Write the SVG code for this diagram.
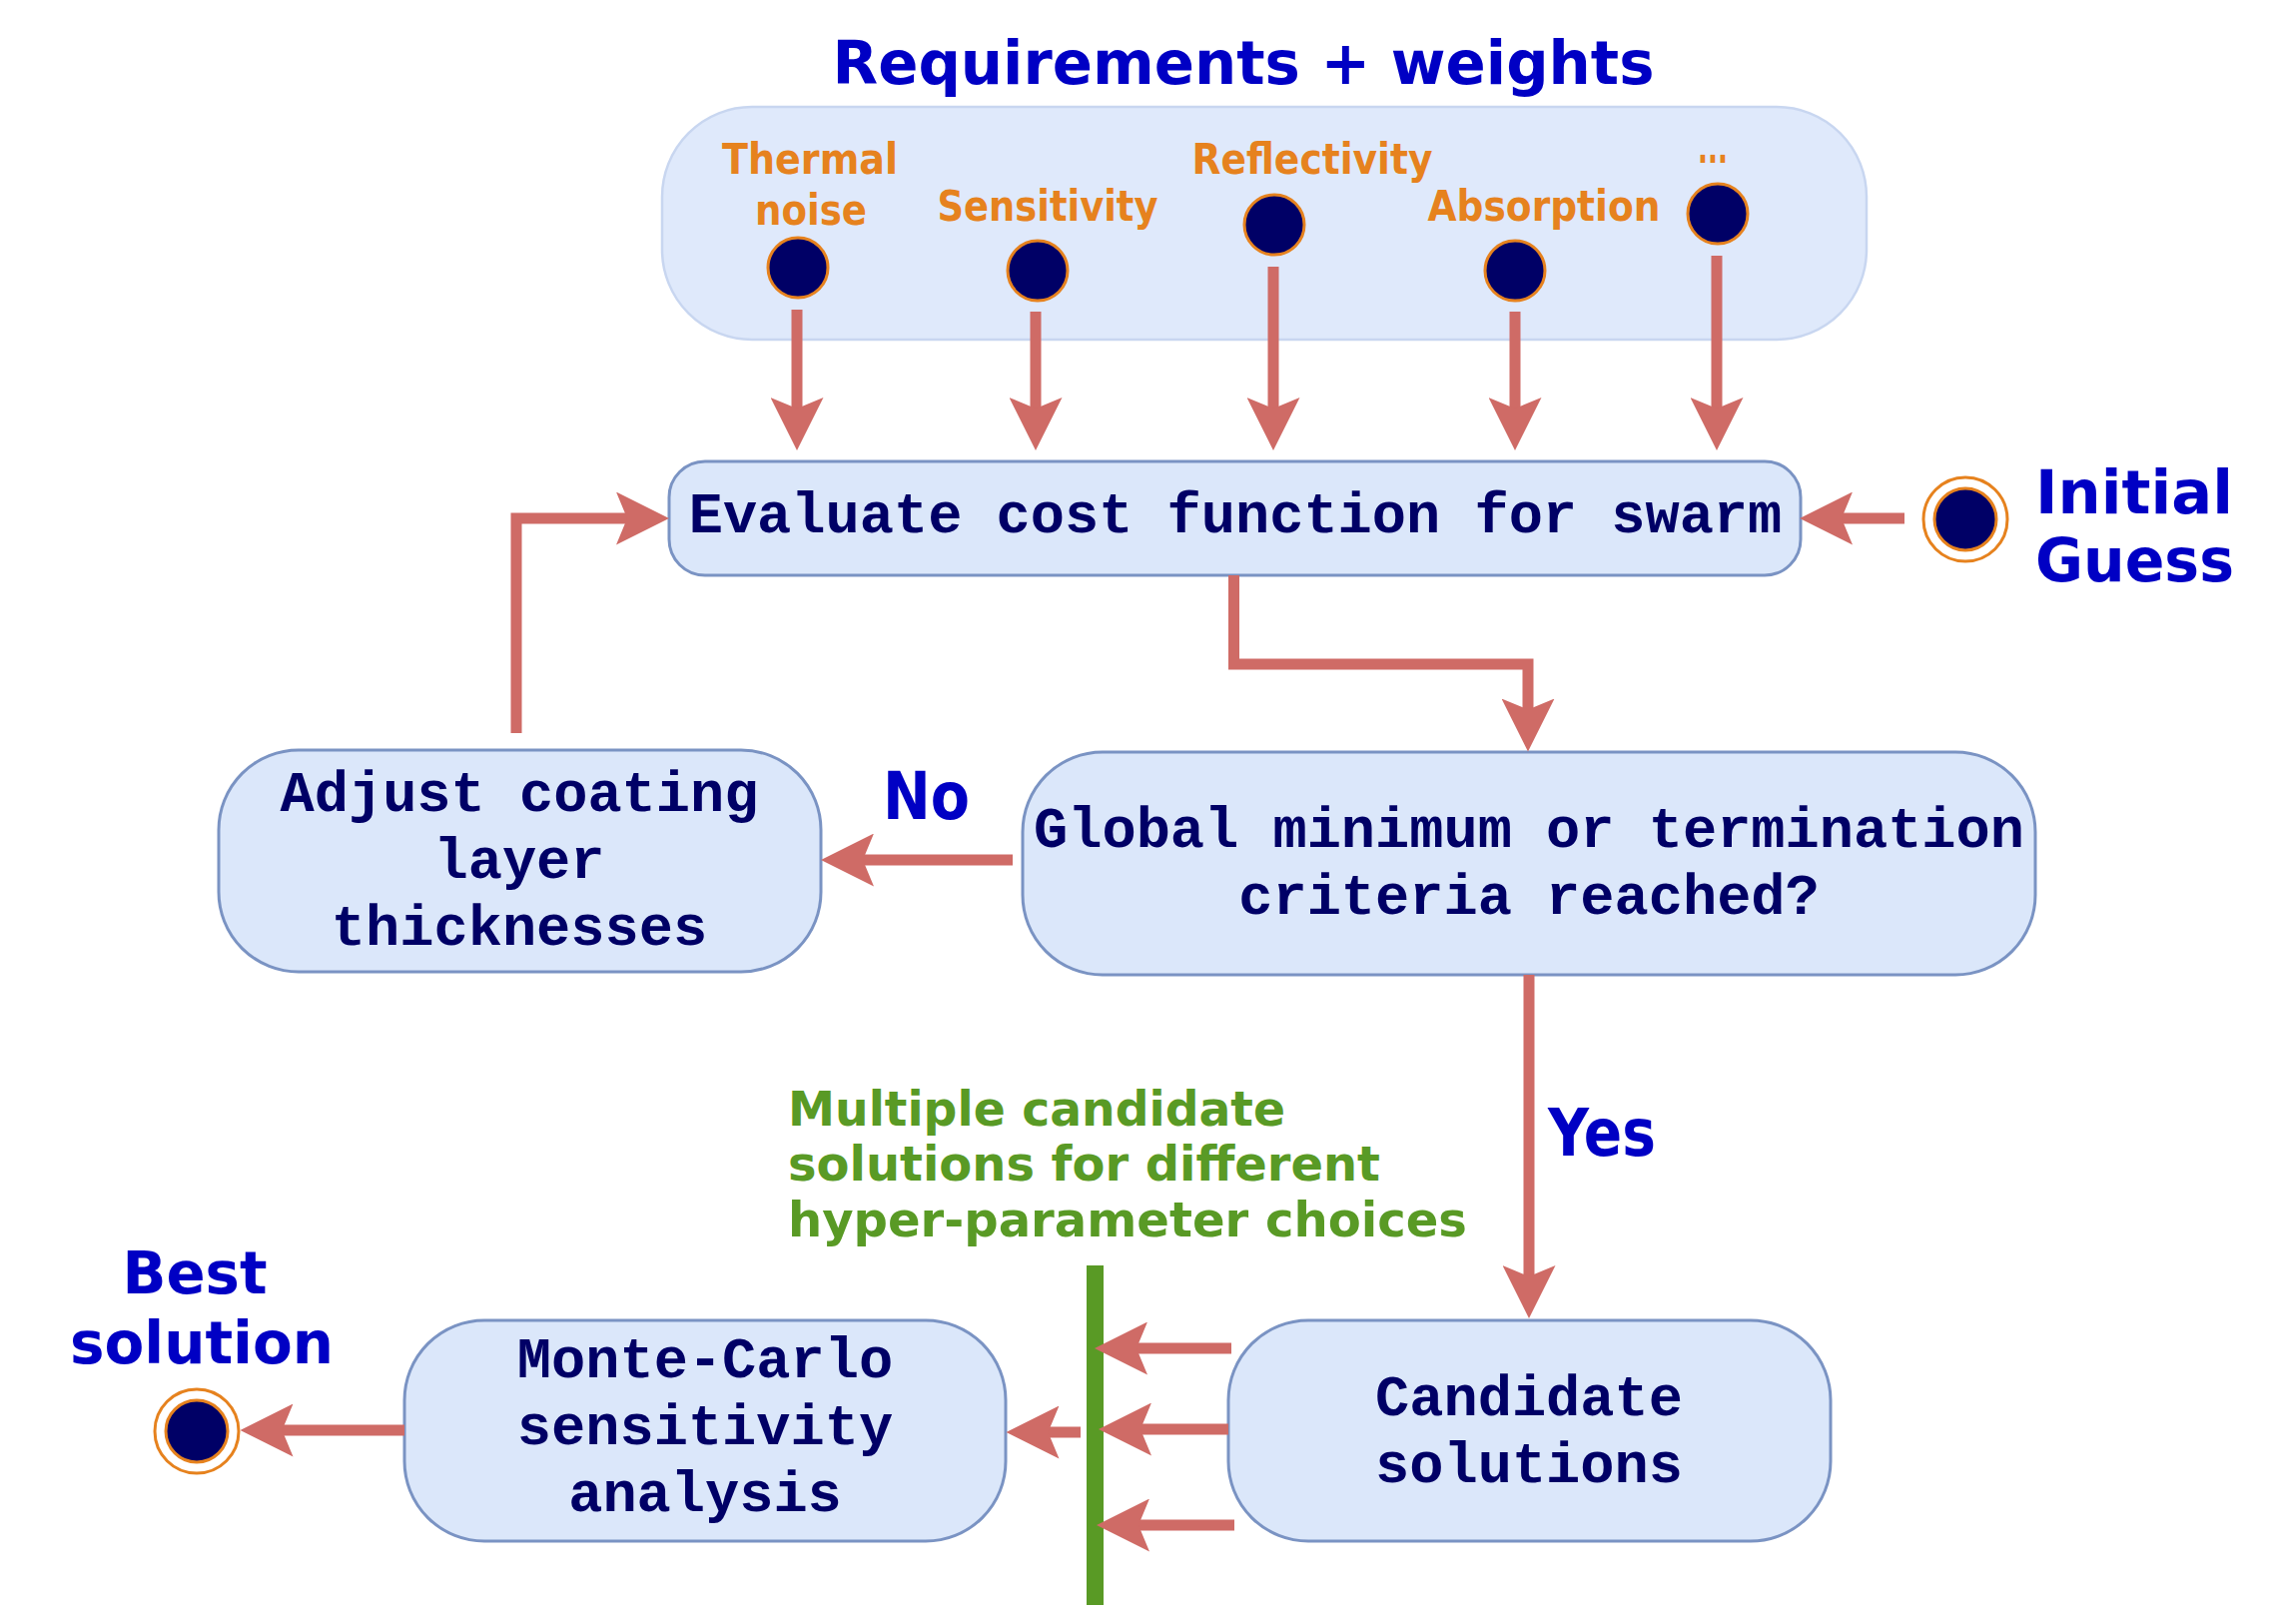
<svg xmlns="http://www.w3.org/2000/svg" width="2275" height="1626" viewBox="0 0 2275 1626">
<style>
.box{fill:#dbe7fa;stroke:#7a93c3;stroke-width:3}
.cont{fill:#dfe9fb;stroke:#c8d6f0;stroke-width:2.5}
.mono{font-family:"Liberation Mono","Courier New",monospace;font-weight:bold;font-size:57px;fill:#000066;text-anchor:middle}
.lbl{font-family:Verdana,"DejaVu Sans",sans-serif;font-weight:bold;fill:#0000c4}
.org{font-family:Verdana,"DejaVu Sans",sans-serif;font-weight:bold;font-size:42px;fill:#e6821e;text-anchor:middle}
.grn{font-family:Verdana,"DejaVu Sans",sans-serif;font-weight:bold;font-size:48px;fill:#599a25}
.cmc{font-family:"DejaVu Sans",sans-serif;font-weight:bold;font-size:66px;fill:#0000c4}
.dot{fill:#000066;stroke:#e6821e;stroke-width:3}
.ring{fill:none;stroke:#e6821e;stroke-width:3}
.edge{fill:none;stroke:#cf6b66;stroke-width:11;marker-end:url(#ah)}
</style>
<defs>
<marker id="ah" markerUnits="userSpaceOnUse" markerWidth="53" markerHeight="53" viewBox="0 0 53 53" refX="15" refY="26.5" orient="auto">
<path d="M0,0 L53,26.5 L0,53 L11,26.5 Z" fill="#cf6b66"/>
</marker>
</defs>

<text class="lbl" x="1245" y="84" font-size="60" text-anchor="middle" textLength="823" lengthAdjust="spacingAndGlyphs">Requirements + weights</text>

<g id="requirements">
<rect class="cont" x="663" y="107" width="1206" height="233" rx="90" ry="90"/>
<text class="org" x="811" y="174" textLength="176" lengthAdjust="spacingAndGlyphs">Thermal</text>
<text class="org" x="812" y="225" textLength="112" lengthAdjust="spacingAndGlyphs">noise</text>
<text class="org" x="1049" y="221" textLength="221" lengthAdjust="spacingAndGlyphs">Sensitivity</text>
<text class="org" x="1314" y="174" textLength="241" lengthAdjust="spacingAndGlyphs">Reflectivity</text>
<text class="org" x="1546" y="221" textLength="233" lengthAdjust="spacingAndGlyphs">Absorption</text>
<text class="org" x="1715" y="163" textLength="30" lengthAdjust="spacingAndGlyphs">...</text>
</g>
<g id="req-thermal"><circle class="dot" cx="799" cy="268" r="30"/></g>
<g id="req-sensitivity"><circle class="dot" cx="1039" cy="271" r="30"/></g>
<g id="req-reflectivity"><circle class="dot" cx="1276" cy="225" r="30"/></g>
<g id="req-absorption"><circle class="dot" cx="1517" cy="271" r="30"/></g>
<g id="req-more"><circle class="dot" cx="1720" cy="214" r="30"/></g>

<g id="evaluate">
<rect class="box" x="670" y="462" width="1133" height="114" rx="36" ry="36"/>
<text class="mono" x="1237" y="533">Evaluate cost function for swarm</text>
</g>

<g id="initial-guess">
<circle class="ring" cx="1968" cy="520" r="42"/>
<circle class="dot" cx="1968" cy="520" r="31"/>
<text class="lbl" x="2038" y="514" font-size="61" textLength="198" lengthAdjust="spacingAndGlyphs">Initial</text>
<text class="lbl" x="2038" y="582" font-size="61" textLength="199" lengthAdjust="spacingAndGlyphs">Guess</text>
</g>

<g id="global-check">
<rect class="box" x="1024" y="753" width="1014" height="223" rx="80" ry="80"/>
<text class="mono" x="1531" y="848">Global minimum or termination</text>
<text class="mono" x="1531" y="915">criteria reached?</text>
</g>

<g id="adjust">
<rect class="box" x="219" y="751" width="603" height="222" rx="80" ry="80"/>
<text class="mono" x="520" y="812">Adjust coating</text>
<text class="mono" x="520" y="879">layer</text>
<text class="mono" x="520" y="946">thicknesses</text>
</g>

<g id="candidates">
<rect class="box" x="1230" y="1322" width="603" height="221" rx="80" ry="80"/>
<text class="mono" x="1531" y="1417">Candidate</text>
<text class="mono" x="1531" y="1484">solutions</text>
</g>

<g id="monte-carlo">
<rect class="box" x="405" y="1322" width="602" height="221" rx="80" ry="80"/>
<text class="mono" x="706" y="1379">Monte-Carlo</text>
<text class="mono" x="706" y="1446">sensitivity</text>
<text class="mono" x="706" y="1513">analysis</text>
</g>

<g id="join-bar">
<rect x="1088" y="1267" width="17" height="340" fill="#599a25"/>
<text class="grn" x="789" y="1127" textLength="498" lengthAdjust="spacingAndGlyphs">Multiple candidate</text>
<text class="grn" x="789" y="1182" textLength="593" lengthAdjust="spacingAndGlyphs">solutions for different</text>
<text class="grn" x="789" y="1238" textLength="680" lengthAdjust="spacingAndGlyphs">hyper-parameter choices</text>
</g>

<g id="best-solution">
<circle class="ring" cx="197" cy="1433" r="42"/>
<circle class="dot" cx="197" cy="1433" r="31"/>
<text class="lbl" x="195" y="1295" font-size="59" text-anchor="middle" textLength="145" lengthAdjust="spacingAndGlyphs">Best</text>
<text class="lbl" x="202" y="1365" font-size="59" text-anchor="middle" textLength="264" lengthAdjust="spacingAndGlyphs">solution</text>
</g>

<g id="connectors">
<path class="edge" d="M798,310 V413"/>
<path class="edge" d="M1037,312 V413"/>
<path class="edge" d="M1275,267 V413"/>
<path class="edge" d="M1517,312 V413"/>
<path class="edge" d="M1719,256 V413"/>
<path class="edge" d="M1907,519 H1840"/>
<path class="edge" d="M1235.5,576 V665 H1530 V714.5"/>
<path class="edge" d="M1014,861 H860"/>
<path class="edge" d="M517,734 V519 H632"/>
<path class="edge" d="M1531,976 V1282"/>
<path class="edge" d="M1233,1350 H1134"/>
<path class="edge" d="M1230,1431 H1138"/>
<path class="edge" d="M1236,1527 H1136"/>
<path class="edge" d="M1082,1434 H1045.5"/>
<path class="edge" d="M405,1432 H278.5"/>
</g>
<text class="cmc" x="884" y="820" textLength="87" lengthAdjust="spacingAndGlyphs">No</text>
<text class="cmc" x="1550" y="1157" textLength="108" lengthAdjust="spacingAndGlyphs">Yes</text>
</svg>
